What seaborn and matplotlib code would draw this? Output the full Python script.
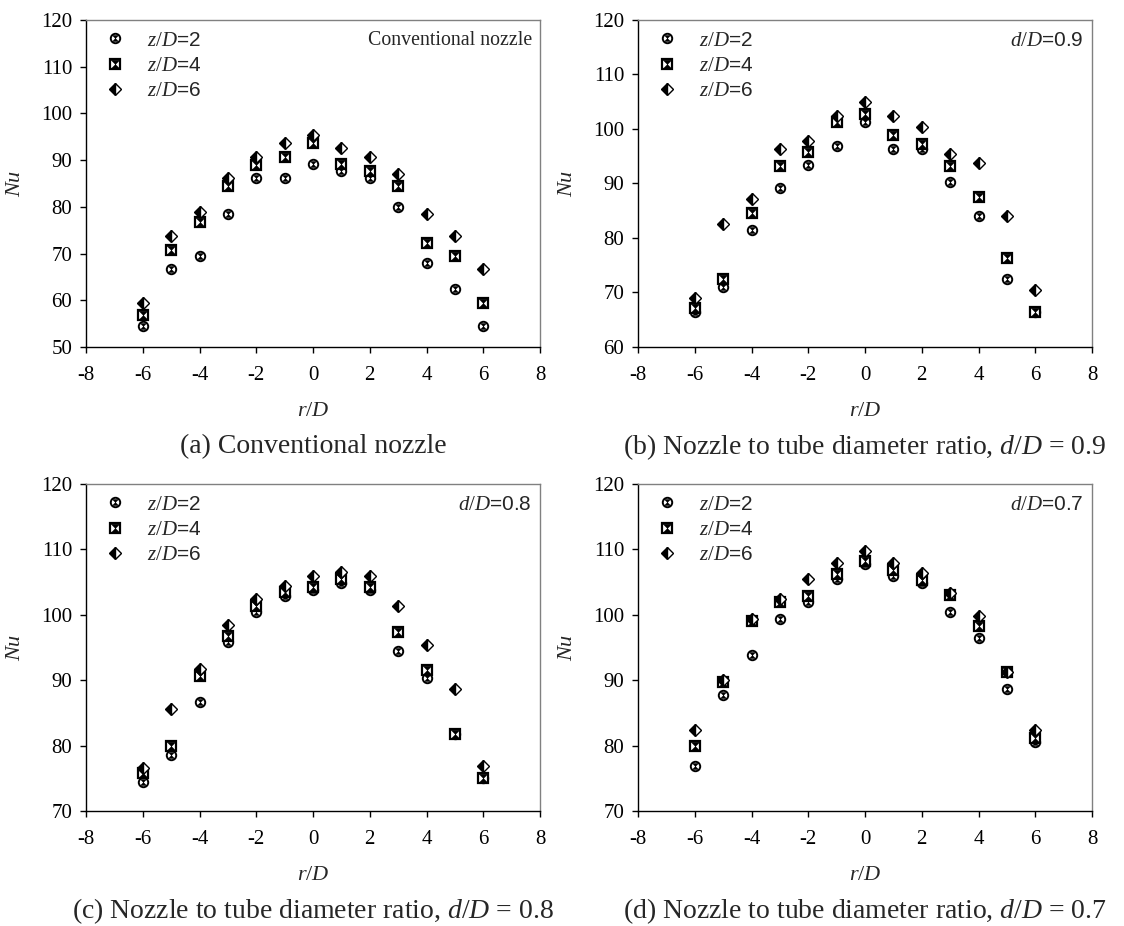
import numpy as np
import pandas as pd
import matplotlib
matplotlib.use("Agg")
import matplotlib.pyplot as plt
import seaborn as sns
from matplotlib.path import Path
from matplotlib.legend_handler import HandlerTuple

# ---------------- data ----------------
r_over_D = [-6, -5, -4, -3, -2, -1, 0, 1, 2, 3, 4, 5, 6]
series_labels = ["z/D=2", "z/D=4", "z/D=6"]

# (a) conventional nozzle
nu_a_z2 = [54.5, 66.6, 69.5, 78.5, 86.1, 86.1, 89.1, 87.7, 86.1, 79.9, 68.0, 62.4, 54.5]
nu_a_z4 = [56.9, 70.8, 76.8, 84.4, 89.0, 90.6, 93.6, 89.1, 87.6, 84.4, 72.3, 69.4, 59.5]
nu_a_z6 = [59.5, 73.8, 78.8, 86.1, 90.7, 93.7, 95.4, 92.6, 90.7, 87.1, 78.4, 73.8, 66.6]
# (b) d/D = 0.9
nu_b_z2 = [66.5, 71.0, 81.5, 89.2, 93.4, 96.9, 101.3, 96.4, 96.4, 90.2, 84.1, 72.4, 66.4]
nu_b_z4 = [67.2, 72.4, 84.5, 93.2, 95.8, 101.3, 102.7, 98.9, 97.3, 93.2, 87.5, 76.4, 66.4]
nu_b_z6 = [69.0, 82.5, 87.1, 96.4, 97.8, 102.4, 104.9, 102.3, 100.3, 95.4, 93.8, 84.1, 70.4]
# (c) d/D = 0.8
nu_c_z2 = [74.5, 78.5, 86.7, 95.9, 100.4, 102.9, 103.8, 104.8, 103.8, 94.4, 90.4, 81.8, 75.0]
nu_c_z4 = [75.8, 79.9, 90.7, 96.8, 101.4, 103.5, 104.3, 105.4, 104.3, 97.3, 91.6, 81.8, 75.0]
nu_c_z6 = [76.5, 85.6, 91.7, 98.4, 102.4, 104.4, 105.9, 106.5, 105.9, 101.4, 95.4, 88.7, 76.9]
# (d) d/D = 0.7
nu_d_z2 = [76.9, 87.8, 93.8, 99.4, 101.9, 105.4, 107.8, 105.9, 104.9, 100.4, 96.4, 88.7, 80.5]
nu_d_z4 = [79.9, 89.7, 99.0, 102.0, 102.9, 106.3, 108.3, 106.9, 105.3, 103.0, 98.3, 91.3, 81.1]
nu_d_z6 = [82.4, 90.1, 99.4, 102.4, 105.4, 107.9, 109.8, 107.9, 106.4, 103.4, 99.8, 91.3, 82.4]

panel_notes = ["Conventional nozzle", r"$\mathit{d/D}$=0.9", r"$\mathit{d/D}$=0.8", r"$\mathit{d/D}$=0.7"]
panel_captions = ["(a) Conventional nozzle",
                  r"(b) Nozzle to tube diameter ratio, $d$/$D$ = 0.9",
                  r"(c) Nozzle to tube diameter ratio, $d$/$D$ = 0.8",
                  r"(d) Nozzle to tube diameter ratio, $d$/$D$ = 0.7"]
panel_ylims = [(50, 120), (60, 120), (70, 120), (70, 120)]
x_ticks = [-8, -6, -4, -2, 0, 2, 4, 6, 8]

panel_series = [
    [nu_a_z2, nu_a_z4, nu_a_z6],
    [nu_b_z2, nu_b_z4, nu_b_z6],
    [nu_c_z2, nu_c_z4, nu_c_z6],
    [nu_d_z2, nu_d_z4, nu_d_z6],
]

# ---------------- style ----------------
sns.set_theme(style="white")
plt.rcParams["font.family"] = ["Liberation Serif", "DejaVu Serif"]
plt.rcParams["mathtext.fontset"] = "custom"
plt.rcParams["mathtext.rm"] = "Liberation Serif"
plt.rcParams["mathtext.it"] = "Liberation Serif:italic"
plt.rcParams["mathtext.bf"] = "Liberation Serif:bold"

W, H = 1124, 926
fig = plt.figure(figsize=(W / 100, H / 100), dpi=100)
fig.patch.set_facecolor("white")

# axes boxes in pixels: left, top, right, bottom
boxes = [(86, 20, 540, 347), (638, 20, 1092, 347),
         (86, 484, 540, 811), (638, 484, 1092, 811)]

# hourglass overlay marker
hg = Path([(-1, 1), (1, 1), (0, 0), (-1, 1), (-1, -1), (1, -1), (0, 0), (-1, -1)],
          [Path.MOVETO, Path.LINETO, Path.LINETO, Path.CLOSEPOLY,
           Path.MOVETO, Path.LINETO, Path.LINETO, Path.CLOSEPOLY])

for i, (box, series, ylim, note, cap) in enumerate(zip(boxes, panel_series, panel_ylims,
                                                       panel_notes, panel_captions)):
    l, t, r, b = box
    ax = fig.add_axes([l / W, 1 - b / H, (r - l) / W, (b - t) / H])
    handles = []
    # z/D=2 : circle
    df = pd.DataFrame({"r": r_over_D, "nu": series[0]})
    sns.lineplot(data=df, x="r", y="nu", ax=ax, estimator=None, sort=False,
                 linestyle="none", marker="o", markersize=6.8, markerfacecolor="white",
                 markeredgecolor="black", markeredgewidth=1.4, color="black")
    h1 = ax.lines[-1]
    sns.lineplot(data=df, x="r", y="nu", ax=ax, estimator=None, sort=False,
                 linestyle="none", marker=hg, markersize=4.4, markerfacecolor="black",
                 markeredgecolor="black", markeredgewidth=0.3, color="black")
    h1b = ax.lines[-1]
    handles.append((h1, h1b))
    # z/D=4 : square
    df = pd.DataFrame({"r": r_over_D, "nu": series[1]})
    sns.lineplot(data=df, x="r", y="nu", ax=ax, estimator=None, sort=False,
                 linestyle="none", marker="s", markersize=6.5, markerfacecolor="white",
                 markeredgecolor="black", markeredgewidth=1.6, color="black")
    h2 = ax.lines[-1]
    sns.lineplot(data=df, x="r", y="nu", ax=ax, estimator=None, sort=False,
                 linestyle="none", marker=hg, markersize=6.3, markerfacecolor="black",
                 markeredgecolor="black", markeredgewidth=0.3, color="black")
    h2b = ax.lines[-1]
    handles.append((h2, h2b))
    # z/D=6 : half-filled diamond
    df = pd.DataFrame({"r": r_over_D, "nu": series[2]})
    sns.lineplot(data=df, x="r", y="nu", ax=ax, estimator=None, sort=False,
                 linestyle="none", marker="D", markersize=6.3, fillstyle="left",
                 markerfacecolor="black", markerfacecoloralt="white",
                 markeredgecolor="black", markeredgewidth=1.0, color="black")
    h3 = ax.lines[-1]
    handles.append((h3,))

    ax.set_xlim(-8, 8)
    ax.set_ylim(*ylim)
    ax.set_xticks(x_ticks)
    ax.set_xticklabels([str(v) for v in x_ticks])
    yt = list(range(ylim[0], ylim[1] + 1, 10))
    ax.set_yticks(yt)
    ax.set_yticklabels([str(v) for v in yt])
    ax.tick_params(axis="both", direction="out", length=4, width=1, colors="black",
                   labelsize=15, left=True, bottom=True)
    ax.tick_params(axis="y", pad=6)
    ax.tick_params(axis="x", pad=10)
    for s in ["left", "bottom"]:
        ax.spines[s].set_color("black")
        ax.spines[s].set_linewidth(1.0)
    for s in ["top", "right"]:
        ax.spines[s].set_color("#808080")
        ax.spines[s].set_linewidth(1.0)
    ax.grid(False)

    ax.set_ylabel(r"$Nu$", fontsize=16)
    ax.yaxis.set_label_coords(-0.134, 0.5)
    ax.set_xlabel(r"$r$/$D$", fontsize=16)
    ax.xaxis.set_label_coords(0.5, -0.168)

    leg_labels = [r"$\mathit{z/D}$=" + s.split("=")[1] for s in series_labels]
    leg = ax.legend(handles=handles, labels=leg_labels,
                    handler_map={tuple: HandlerTuple(ndivide=1)},
                    loc="upper left", bbox_to_anchor=(0.041, 0.967), frameon=False,
                    borderaxespad=0, borderpad=0, handlelength=1.0, handletextpad=1.04,
                    labelspacing=0.3, numpoints=1,
                    prop={"family": "Liberation Sans", "size": 15})
    ax.text(0.982, 0.936, note, transform=ax.transAxes, ha="right", va="center",
            fontsize=14.3 if i == 0 else 15,
            family="Liberation Serif" if i == 0 else "Liberation Sans")

    fig.text(((l + r) / 2) / W, 1 - (b + 100) / H, cap, ha="center", va="center",
             fontsize=20)

fig.savefig("out.png", dpi=100, facecolor="white")
